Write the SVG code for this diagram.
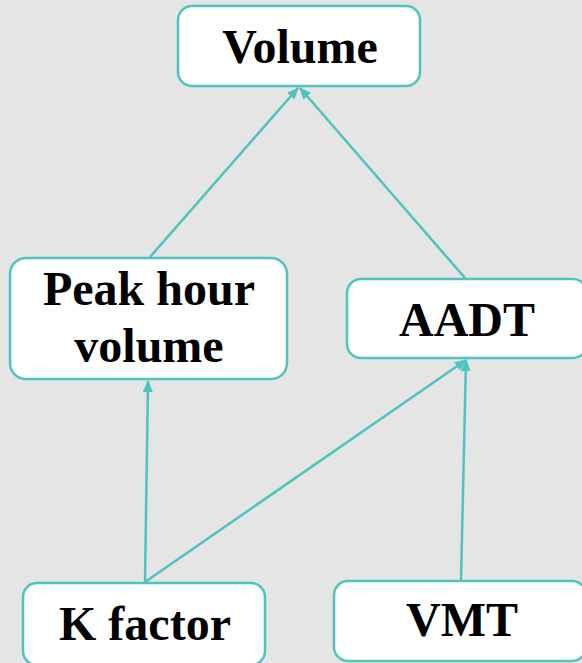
<svg xmlns="http://www.w3.org/2000/svg" width="582" height="663" viewBox="0 0 582 663">
<style>
.box{fill:#ffffff;stroke:#4fc3bf;stroke-width:2.5}
.lbl{font-family:"Liberation Serif",serif;font-weight:bold;font-size:48px;fill:#000;text-anchor:middle}
.edge{stroke:#4fc3bf;stroke-width:2.5;fill:none;marker-end:url(#arr)}
</style>
<defs>
<marker id="arr" viewBox="0 0 12 10" refX="11" refY="5" markerWidth="12" markerHeight="10" markerUnits="userSpaceOnUse" orient="auto">
<path d="M0,0 L12,5 L0,10 z" fill="#4fc3bf"/>
</marker>
</defs>
<rect width="582" height="663" fill="#e5e5e5"/>
<g id="connectors">
<line class="edge" x1="150" y1="257" x2="298" y2="88"/>
<line class="edge" x1="465" y1="278" x2="300" y2="88"/>
<line class="edge" x1="145" y1="582" x2="148" y2="381"/>
<line class="edge" x1="145" y1="582" x2="466" y2="360"/>
<line class="edge" x1="461" y1="580" x2="466" y2="360"/>
</g>
<g id="volume">
<rect class="box" x="178" y="6" width="242" height="80" rx="14"/>
<text class="lbl" x="300" y="63">Volume</text>
</g>
<g id="peak">
<rect class="box" x="10" y="258" width="277" height="121" rx="16"/>
<text class="lbl" x="149" y="305">Peak hour</text>
<text class="lbl" x="149" y="362">volume</text>
</g>
<g id="aadt">
<rect class="box" x="347" y="279" width="240" height="79" rx="14"/>
<text class="lbl" x="467" y="336">AADT</text>
</g>
<g id="kfactor">
<rect class="box" x="23" y="583" width="242" height="82" rx="14"/>
<text class="lbl" x="145" y="640">K factor</text>
</g>
<g id="vmt">
<rect class="box" x="334" y="581" width="252" height="80" rx="14"/>
<text class="lbl" x="462" y="636">VMT</text>
</g>
</svg>
